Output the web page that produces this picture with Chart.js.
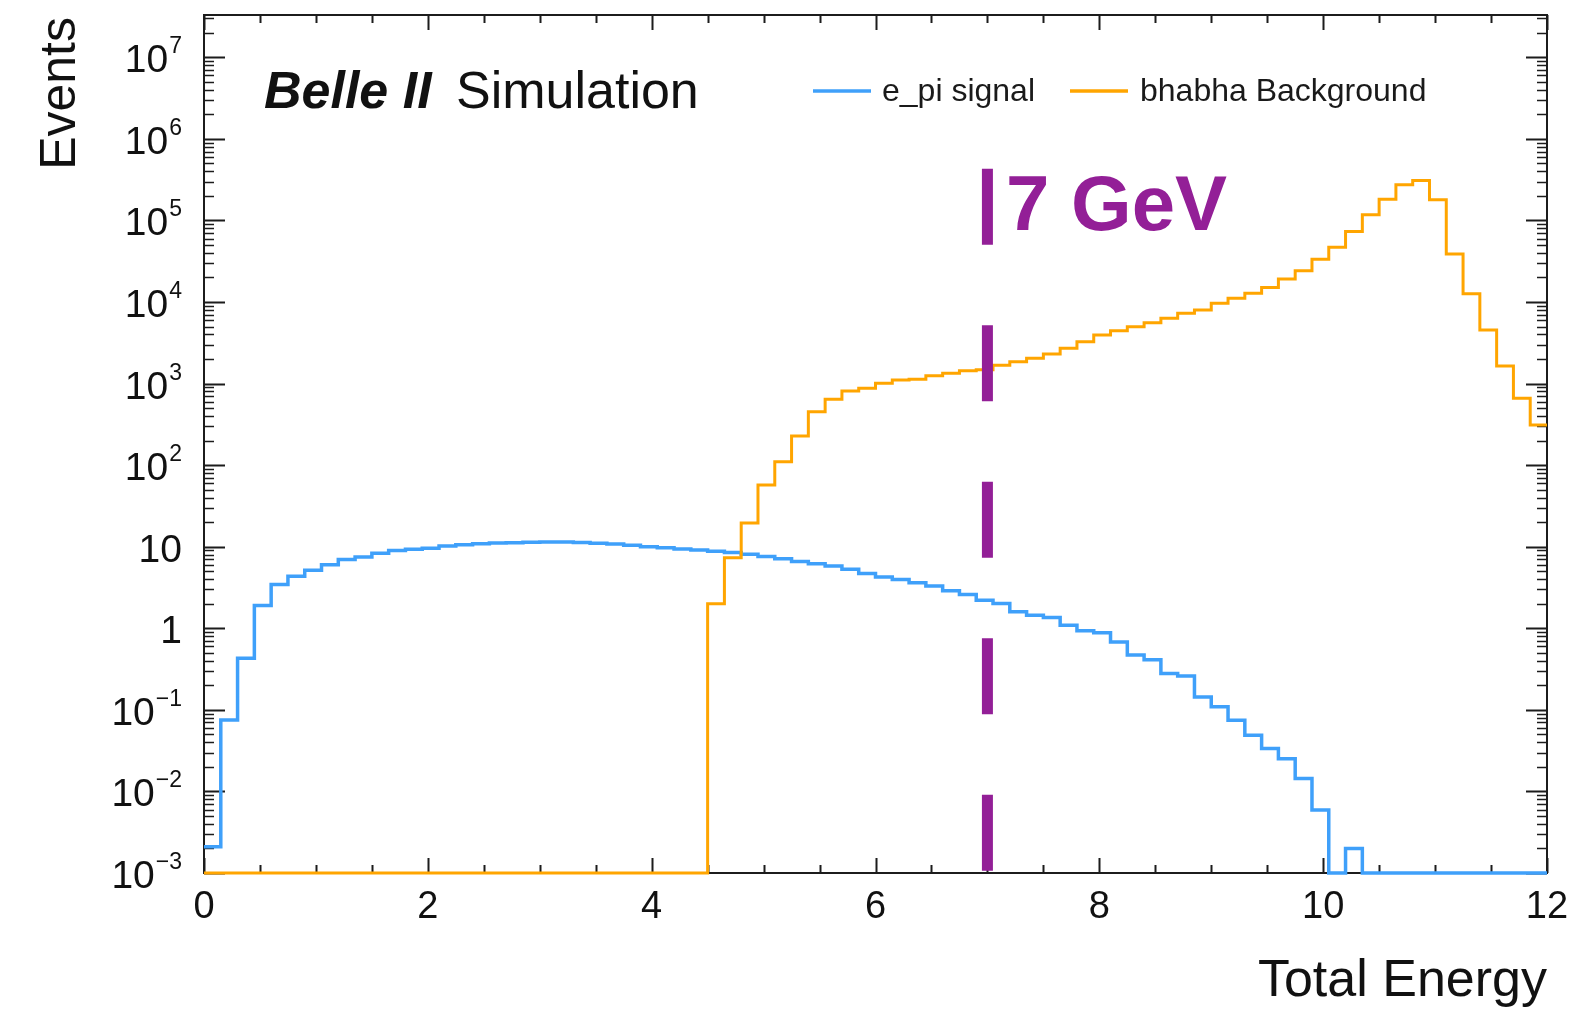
<!DOCTYPE html>
<html>
<head>
<meta charset="utf-8">
<title>Total Energy</title>
<script src="https://cdn.jsdelivr.net/npm/chart.js@4/dist/chart.umd.min.js"></script>
<style>
  html, body { margin: 0; padding: 0; background: #ffffff; }
  canvas { display: block; }
</style>
</head>
<body>
<canvas id="chart" width="1578" height="1011"></canvas>
<script>
// Binning: 80 bins of 0.15 GeV covering 0–12 GeV
const binWidth = 0.15;
const xMin = 0;
const xMax = 12;
const yMin = 1e-3;
const yMax = 3.3e7;

// Events per bin, e_pi signal
const signalCounts = [
  0.0021, 0.075, 0.43, 1.9, 3.45, 4.35, 5.15, 6.0, 6.95, 7.5,
  8.3, 9.0, 9.3, 9.6, 10.2, 10.6, 10.9, 11.1, 11.2, 11.35,
  11.45, 11.4, 11.25, 11.0, 10.8, 10.4, 10.0, 9.7, 9.4, 9.1,
  8.8, 8.5, 8.1, 7.6, 7.1, 6.6, 6.2, 5.8, 5.3, 4.7,
  4.25, 3.97, 3.61, 3.29, 2.88, 2.6, 2.21, 2.01, 1.59, 1.45,
  1.36, 1.09, 0.93, 0.88, 0.68, 0.47, 0.41, 0.28, 0.26, 0.144,
  0.109, 0.0745, 0.0488, 0.0335, 0.0252, 0.0144, 0.0059, 0, 0.002, 0,
  0, 0, 0, 0, 0, 0, 0, 0, 0, 0
];

// Events per bin, bhabha background
const backgroundCounts = [
  0, 0, 0, 0, 0, 0, 0, 0, 0, 0,
  0, 0, 0, 0, 0, 0, 0, 0, 0, 0,
  0, 0, 0, 0, 0, 0, 0, 0, 0, 0,
  2.0, 7.3, 19.6, 57, 110, 228, 452, 641, 811, 875,
  1010, 1107, 1130, 1250, 1337, 1440, 1480, 1680, 1857, 2043,
  2307, 2710, 3266, 3946, 4457, 4990, 5585, 6324, 7280, 8000,
  9660, 11140, 12830, 15020, 19190, 24080, 33500, 47000, 73100, 117000,
  182000, 273000, 309000, 179000, 38900, 12600, 4550, 1644, 661, 310
];

const seriesLabels = ['e_pi signal', 'bhabha Background'];
const seriesColors = ['#3fa0fa', '#ffa500'];

// Energy cut marker
const cutEnergy = 7;
const cutLineTop = 4.3e5;
const cutLabel = '7 GeV';
const cutColor = '#931f97';

// Axis tick labels
const xTickValues = [0, 2, 4, 6, 8, 10, 12];
const xTickLabels = ['0', '2', '4', '6', '8', '10', '12'];
const yTickValues = [1e-3, 1e-2, 1e-1, 1, 10, 1e2, 1e3, 1e4, 1e5, 1e6, 1e7];
const yTickLabels = ['10^\u22123', '10^\u22122', '10^\u22121', '1', '10', '10^2', '10^3', '10^4', '10^5', '10^6', '10^7'];

const xTitle = 'Total Energy';
const yTitle = 'Events';
const experimentLabel = 'Belle II';
const statusLabel = 'Simulation';

const FONT = '"Liberation Sans", Arial, Helvetica, sans-serif';

// Step outline: one point at each bin's lower edge, plus the closing edge.
// Empty bins sit on the frame floor, as log-scale histograms usually show them.
function stepPoints(counts) {
  const pts = counts.map((v, i) => ({ x: +(i * binWidth).toFixed(4), y: v > 0 ? v : yMin }));
  pts.push({ x: xMax, y: pts[pts.length - 1].y });
  return pts;
}

const framePlugin = {
  id: 'frameAndText',
  beforeDraw(chart) {
    const ctx = chart.ctx;
    ctx.save();
    ctx.fillStyle = '#ffffff';
    ctx.fillRect(0, 0, chart.width, chart.height);
    ctx.restore();
  },
  beforeDatasetsDraw(chart) {
    const ctx = chart.ctx;
    const a = chart.chartArea;
    const xs = chart.scales.x;
    const ys = chart.scales.y;
    ctx.save();
    ctx.strokeStyle = '#1c1c1c';
    ctx.lineWidth = 2;
    ctx.strokeRect(a.left, a.top, a.right - a.left, a.bottom - a.top);

    // x ticks (bottom and top, pointing inward)
    ctx.lineWidth = 2;
    for (let v = xMin; v <= xMax + 1e-9; v += 0.5) {
      const px = Math.round(xs.getPixelForValue(v)) + 0.5;
      const major = Math.abs(v / 2 - Math.round(v / 2)) < 1e-6;
      const len = major ? 15 : 8;
      ctx.beginPath();
      ctx.moveTo(px, a.bottom);
      ctx.lineTo(px, a.bottom - len);
      ctx.moveTo(px, a.top);
      ctx.lineTo(px, a.top + len);
      ctx.stroke();
    }

    // y ticks (left and right, pointing inward)
    for (let d = -3; d <= 7; d++) {
      for (let m = 1; m <= 9; m++) {
        const v = m * Math.pow(10, d);
        if (v < yMin || v > yMax) continue;
        const py = Math.round(ys.getPixelForValue(v)) + 0.5;
        const len = m === 1 ? 21 : 10;
        ctx.lineWidth = m === 1 ? 2 : 1.5;
        ctx.beginPath();
        ctx.moveTo(a.left, py);
        ctx.lineTo(a.left + len, py);
        ctx.moveTo(a.right, py);
        ctx.lineTo(a.right - len, py);
        ctx.stroke();
      }
    }
    ctx.restore();
  },
  afterDraw(chart) {
    const ctx = chart.ctx;
    const a = chart.chartArea;
    const xs = chart.scales.x;
    const ys = chart.scales.y;
    ctx.save();
    ctx.fillStyle = '#111111';

    // x tick labels
    ctx.font = '38px ' + FONT;
    ctx.textAlign = 'center';
    ctx.textBaseline = 'alphabetic';
    xTickValues.forEach((v, i) => {
      ctx.fillText(xTickLabels[i], xs.getPixelForValue(v), 918);
    });

    // y tick labels with superscript exponents, right aligned
    const labelRight = 182;
    yTickValues.forEach((v, i) => {
      const base = ys.getPixelForValue(v) + 15;
      const parts = yTickLabels[i].split('^');
      if (parts.length === 2) {
        ctx.font = '23px ' + FONT;
        ctx.textAlign = 'right';
        ctx.fillText(parts[1], labelRight, base - 19);
        const ew = ctx.measureText(parts[1]).width;
        ctx.font = '39px ' + FONT;
        ctx.fillText(parts[0], labelRight - ew - 1, base);
      } else {
        ctx.font = '39px ' + FONT;
        ctx.textAlign = 'right';
        ctx.fillText(parts[0], labelRight, base);
      }
    });

    // axis titles
    ctx.font = '52px ' + FONT;
    ctx.textAlign = 'right';
    ctx.fillText(xTitle, a.right, 996);
    ctx.font = '50px ' + FONT;
    ctx.save();
    ctx.translate(75, 17);
    ctx.rotate(-Math.PI / 2);
    ctx.textAlign = 'right';
    ctx.fillText(yTitle, 0, 0);
    ctx.restore();

    // experiment label
    ctx.textAlign = 'left';
    ctx.font = 'italic bold 52px ' + FONT;
    ctx.fillText(experimentLabel, 264, 108);
    ctx.font = '52px ' + FONT;
    ctx.fillText(statusLabel, 456, 108);

    // legend
    const legendItems = [
      { x0: 813, x1: 871, tx: 882 },
      { x0: 1070, x1: 1128, tx: 1140 }
    ];
    ctx.font = '32px ' + FONT;
    legendItems.forEach((it, i) => {
      ctx.strokeStyle = seriesColors[i];
      ctx.lineWidth = 3.5;
      ctx.beginPath();
      ctx.moveTo(it.x0, 91);
      ctx.lineTo(it.x1, 91);
      ctx.stroke();
      ctx.fillStyle = '#1a1a1a';
      ctx.fillText(seriesLabels[i], it.tx, 101);
    });

    // cut label
    ctx.fillStyle = cutColor;
    ctx.font = 'bold 78px ' + FONT;
    ctx.fillText(cutLabel, 1006, 230);
    ctx.restore();
  }
};

new Chart(document.getElementById('chart'), {
  type: 'line',
  data: {
    datasets: [
      {
        label: seriesLabels[0],
        data: stepPoints(signalCounts),
        borderColor: seriesColors[0],
        borderWidth: 3.5,
        stepped: true,
        pointRadius: 0,
        fill: false,
        clip: 4,
        order: 2,
        borderJoinStyle: 'miter',
        borderCapStyle: 'butt'
      },
      {
        label: seriesLabels[1],
        data: stepPoints(backgroundCounts),
        borderColor: seriesColors[1],
        borderWidth: 3,
        stepped: true,
        pointRadius: 0,
        fill: false,
        clip: 4,
        order: 1,
        borderJoinStyle: 'miter',
        borderCapStyle: 'butt'
      },
      {
        label: cutLabel,
        data: [{ x: cutEnergy, y: cutLineTop }, { x: cutEnergy, y: yMin }],
        borderColor: cutColor,
        borderWidth: 11,
        borderDash: [76, 80.5],
        borderCapStyle: 'butt',
        pointRadius: 0,
        fill: false,
        clip: 4,
        order: 0
      }
    ]
  },
  options: {
    responsive: false,
    animation: false,
    devicePixelRatio: 1,
    events: [],
    layout: { padding: { left: 204, right: 31, top: 15, bottom: 138 } },
    scales: {
      x: { type: 'linear', min: xMin, max: xMax, display: false },
      y: { type: 'logarithmic', min: yMin, max: yMax, display: false }
    },
    plugins: {
      legend: { display: false },
      tooltip: { enabled: false }
    }
  },
  plugins: [framePlugin]
});
</script>
</body>
</html>
